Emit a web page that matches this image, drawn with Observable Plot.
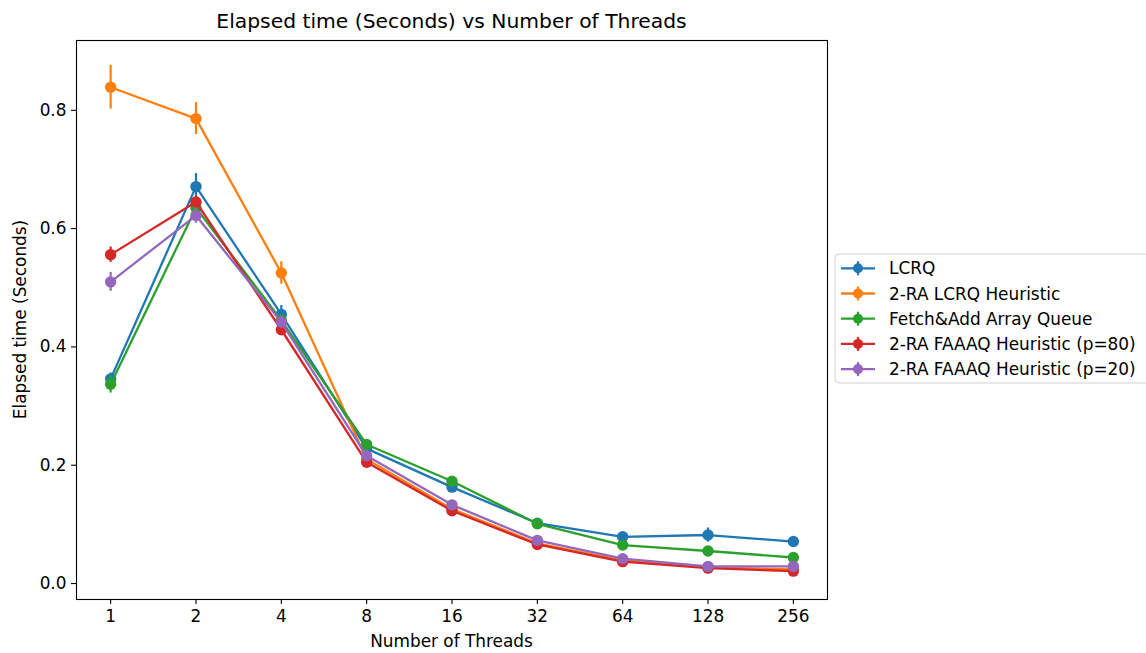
<!DOCTYPE html>
<html>
<head>
<meta charset="utf-8">
<script src="https://cdn.jsdelivr.net/npm/d3@7"></script>
<script src="https://cdn.jsdelivr.net/npm/@observablehq/plot@0.6"></script>
<style>
  html, body { margin: 0; padding: 0; background: white; }
  #chart { width: 1146px; height: 653px; }
</style>
</head>
<body>
<div id="chart"></div>
<script>
// ---- Data ----
const threads = ["1", "2", "4", "8", "16", "32", "64", "128", "256"];
const seriesNames = [
  "LCRQ",
  "2-RA LCRQ Heuristic",
  "Fetch&Add Array Queue",
  "2-RA FAAAQ Heuristic (p=80)",
  "2-RA FAAAQ Heuristic (p=20)"
];
const seriesColors = ["#1f77b4", "#ff7f0e", "#2ca02c", "#d62728", "#9467bd"];

const lcrq        = [0.346, 0.671, 0.455, 0.228, 0.163, 0.102, 0.079, 0.082, 0.071];
const lcrqErr     = [0.010, 0.022, 0.015, 0.005, 0.004, 0.003, 0.003, 0.012, 0.003];
const lcrqHeur    = [0.839, 0.786, 0.525, 0.210, 0.126, 0.068, 0.039, 0.027, 0.024];
const lcrqHeurErr = [0.037, 0.027, 0.019, 0.004, 0.003, 0.002, 0.002, 0.002, 0.002];
const faaaq       = [0.337, 0.635, 0.445, 0.235, 0.173, 0.101, 0.065, 0.055, 0.044];
const faaaqErr    = [0.015, 0.008, 0.008, 0.004, 0.003, 0.002, 0.002, 0.002, 0.002];
const faaaqP80    = [0.556, 0.645, 0.429, 0.205, 0.123, 0.066, 0.037, 0.026, 0.021];
const faaaqP80Err = [0.013, 0.010, 0.006, 0.003, 0.002, 0.002, 0.002, 0.002, 0.002];
const faaaqP20    = [0.510, 0.622, 0.442, 0.216, 0.133, 0.073, 0.042, 0.029, 0.029];
const faaaqP20Err = [0.016, 0.013, 0.010, 0.003, 0.002, 0.002, 0.002, 0.002, 0.002];

const yTicks = [0.0, 0.2, 0.4, 0.6, 0.8];

const seriesValues = [lcrq, lcrqHeur, faaaq, faaaqP80, faaaqP20];
const seriesErrors = [lcrqErr, lcrqHeurErr, faaaqErr, faaaqP80Err, faaaqP20Err];

const rows = [];
seriesNames.forEach((name, k) => {
  threads.forEach((t, i) => {
    rows.push({series: name, k, xi: i, t, y: seriesValues[k][i], err: seriesErrors[k][i]});
  });
});

// ---- Layout ----
const W = 1146, H = 653;
const mL = 76, mR = W - 827, mT = 40, mB = H - 599;
const ff = "DejaVu Sans";

const marks = [];
seriesNames.forEach((name, k) => {
  const d = rows.filter(r => r.k === k);
  const c = seriesColors[k];
  marks.push(Plot.line(d, {x: "xi", y: "y", stroke: c, strokeWidth: 2.3}));
  marks.push(Plot.ruleX(d, {x: "xi", y1: r => r.y - r.err, y2: r => r.y + r.err, stroke: c, strokeWidth: 2.2}));
  marks.push(Plot.dot(d, {x: "xi", y: "y", r: 5.7, fill: c, stroke: "none"}));
});

const plot = Plot.plot({
  width: W,
  height: H,
  marginLeft: mL,
  marginRight: mR,
  marginTop: mT,
  marginBottom: mB,
  style: {fontFamily: ff, fontSize: "16.9px", color: "black", background: "white", overflow: "visible"},
  x: {type: "linear", domain: [-0.4, 8.4]},
  y: {domain: [-0.027, 0.918]},
  marks: [
    ...marks,
    Plot.frame({stroke: "black", strokeWidth: 1.1}),
    Plot.axisX({ticks: d3.range(threads.length), tickFormat: i => threads[i], tickSize: 5, tickPadding: 5, label: null, stroke: "black", strokeWidth: 1.1, fontSize: 16.9}),
    Plot.axisY({ticks: yTicks, tickFormat: d3.format(".1f"), tickSize: 5, tickPadding: 5, label: null, stroke: "black", strokeWidth: 1.1, fontSize: 16.9})
  ]
});

document.getElementById("chart").appendChild(plot);

// ---- Titles, labels, legend ----
const svg = d3.select(plot);

svg.append("text")
  .attr("x", (mL + 827) / 2).attr("y", 21)
  .attr("text-anchor", "middle").attr("dominant-baseline", "central")
  .attr("font-family", ff).attr("font-size", "20.3px").attr("fill", "black")
  .text("Elapsed time (Seconds) vs Number of Threads");

svg.append("text")
  .attr("x", (mL + 827) / 2).attr("y", 641)
  .attr("text-anchor", "middle").attr("dominant-baseline", "central")
  .attr("font-family", ff).attr("font-size", "16.9px").attr("fill", "black")
  .text("Number of Threads");

svg.append("text")
  .attr("transform", `translate(20,${(mT + 599) / 2}) rotate(-90)`)
  .attr("text-anchor", "middle").attr("dominant-baseline", "central")
  .attr("font-family", ff).attr("font-size", "16.9px").attr("fill", "black")
  .text("Elapsed time (Seconds)");

const lg = svg.append("g");
lg.append("rect")
  .attr("x", 835).attr("y", 254).attr("width", 320).attr("height", 129)
  .attr("rx", 4).attr("fill", "white").attr("fill-opacity", 0.8)
  .attr("stroke", "#d0d0d0").attr("stroke-width", 1);

seriesNames.forEach((name, k) => {
  const y = 268.3 + k * 25.2;
  const c = seriesColors[k];
  lg.append("line").attr("x1", 841).attr("x2", 875).attr("y1", y).attr("y2", y)
    .attr("stroke", c).attr("stroke-width", 2.3);
  lg.append("line").attr("x1", 858).attr("x2", 858).attr("y1", y - 7).attr("y2", y + 7)
    .attr("stroke", c).attr("stroke-width", 2.2);
  lg.append("circle").attr("cx", 858).attr("cy", y).attr("r", 5).attr("fill", c);
  lg.append("text").attr("x", 889).attr("y", y)
    .attr("text-anchor", "start")
    .attr("dominant-baseline", "central")
    .attr("font-family", ff).attr("font-size", "16.9px").attr("fill", "black")
    .text(name);
});
</script>
</body>
</html>
